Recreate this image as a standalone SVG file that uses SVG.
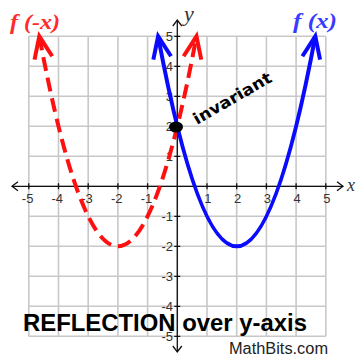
<svg xmlns="http://www.w3.org/2000/svg" width="358" height="358" viewBox="0 0 358 358">
<style>
.grid{fill:none;stroke:#c8c8c8;stroke-width:1.6}
.axis{fill:none;stroke:#111;stroke-width:1.3}
.tick{font-family:"Liberation Sans",Arial,sans-serif;font-size:13px;fill:#333;text-anchor:end}
.ital{font-family:"Liberation Serif","Times New Roman",serif;font-style:italic}
.red{fill:none;stroke:#ff1010;stroke-width:4;stroke-dasharray:14 7}
.blue{fill:none;stroke:#0a0aff;stroke-width:4}
</style>
<defs>
<marker id="arR" markerUnits="userSpaceOnUse" markerWidth="40" markerHeight="40" refX="0" refY="0" viewBox="-30 -20 40 40" orient="auto-start-reverse" overflow="visible">
<path d="M-22,-9 L0,0 L-22,9" fill="none" stroke="#ff1010" stroke-width="4"/>
</marker>
<marker id="arB" markerUnits="userSpaceOnUse" markerWidth="40" markerHeight="40" refX="0" refY="0" viewBox="-30 -20 40 40" orient="auto-start-reverse" overflow="visible">
<path d="M-22,-9 L0,0 L-22,9" fill="none" stroke="#0a0aff" stroke-width="4"/>
</marker>
</defs>
<rect width="358" height="358" fill="#fff"/>
<g id="grid">
<path class="grid" d="M28.8,36.3V336.3M58.5,36.3V336.3M88.2,36.3V336.3M117.9,36.3V336.3M147.6,36.3V336.3M177.3,36.3V336.3M207,36.3V336.3M236.7,36.3V336.3M266.4,36.3V336.3M296.1,36.3V336.3M325.8,36.3V336.3M28.8,36.3H325.8M28.8,66.3H325.8M28.8,96.3H325.8M28.8,126.3H325.8M28.8,156.3H325.8M28.8,186.3H325.8M28.8,216.3H325.8M28.8,246.3H325.8M28.8,276.3H325.8M28.8,306.3H325.8M28.8,336.3H325.8"/>
</g>
<g id="axes">
<path class="axis" d="M12,186.3H343M177.3,20V352"/>
<path class="axis" d="M18,181.8L12,186.3L18,190.8M337,181.8L343,186.3L337,190.8M172.8,26L177.3,20L181.8,26M172.8,346L177.3,352L181.8,346"/>
<path class="axis" d="M28.8,183.3v6M58.5,183.3v6M88.2,183.3v6M117.9,183.3v6M147.6,183.3v6M207,183.3v6M236.7,183.3v6M266.4,183.3v6M296.1,183.3v6M325.8,183.3v6M174.3,36.3h6M174.3,66.3h6M174.3,96.3h6M174.3,126.3h6M174.3,156.3h6M174.3,216.3h6M174.3,246.3h6M174.3,276.3h6M174.3,306.3h6M174.3,336.3h6"/>
<text class="ital" x="184" y="21" font-size="22" fill="#333">y</text>
<text class="ital" x="347" y="191" font-size="18" fill="#333">x</text>
</g>
<g id="tick-labels">
<text class="tick" x="33.4" y="203">-5</text>
<text class="tick" x="63.1" y="203">-4</text>
<text class="tick" x="92.8" y="203">-3</text>
<text class="tick" x="122.5" y="203">-2</text>
<text class="tick" x="152.2" y="203">-1</text>
<text class="tick" x="211.6" y="203">1</text>
<text class="tick" x="241.3" y="203">2</text>
<text class="tick" x="271" y="203">3</text>
<text class="tick" x="300.7" y="203">4</text>
<text class="tick" x="330.4" y="203">5</text>
<text class="tick" x="173" y="41">5</text>
<text class="tick" x="173" y="71">4</text>
<text class="tick" x="173" y="101">3</text>
<text class="tick" x="173" y="131">2</text>
<text class="tick" x="173" y="161">1</text>
<text class="tick" x="173" y="221">-1</text>
<text class="tick" x="173" y="251">-2</text>
<text class="tick" x="173" y="281">-3</text>
<text class="tick" x="173" y="311">-4</text>
<text class="tick" x="173" y="341">-5</text>
</g>
<g id="connectors">
<path id="f-neg-x" class="red" d="M39.32,36.3Q117.9,456.3 196.48,36.3" marker-start="url(#arR)" marker-end="url(#arR)"/>
<path id="f-x" class="blue" d="M158.12,36.3Q236.7,456.3 315.28,36.3" marker-start="url(#arB)" marker-end="url(#arB)"/>
</g>
<g id="invariant">
<ellipse cx="176" cy="127" rx="7" ry="5.5" fill="#000"/>
<text x="197" y="125" transform="rotate(-30 197 125)" font-family="'DejaVu Sans',sans-serif" font-weight="bold" font-size="16" textLength="88" lengthAdjust="spacingAndGlyphs" fill="#000">invariant</text>
</g>
<g id="labels">
<text class="ital" x="10" y="29" font-size="21" font-weight="bold" fill="#ff2a2a" textLength="50" lengthAdjust="spacingAndGlyphs">f (-x)</text>
<text class="ital" x="293" y="28" font-size="21" font-weight="bold" fill="#3a3aff" textLength="44" lengthAdjust="spacingAndGlyphs">f (x)</text>
<text x="23" y="331" font-family="'Liberation Sans',Arial,sans-serif" font-weight="bold" font-size="24" fill="#000" textLength="284" lengthAdjust="spacingAndGlyphs">REFLECTION over y-axis</text>
<text x="229" y="354" font-family="'Liberation Sans',Arial,sans-serif" font-size="16" fill="#222" textLength="99" lengthAdjust="spacingAndGlyphs">MathBits.com</text>
</g>
</svg>
